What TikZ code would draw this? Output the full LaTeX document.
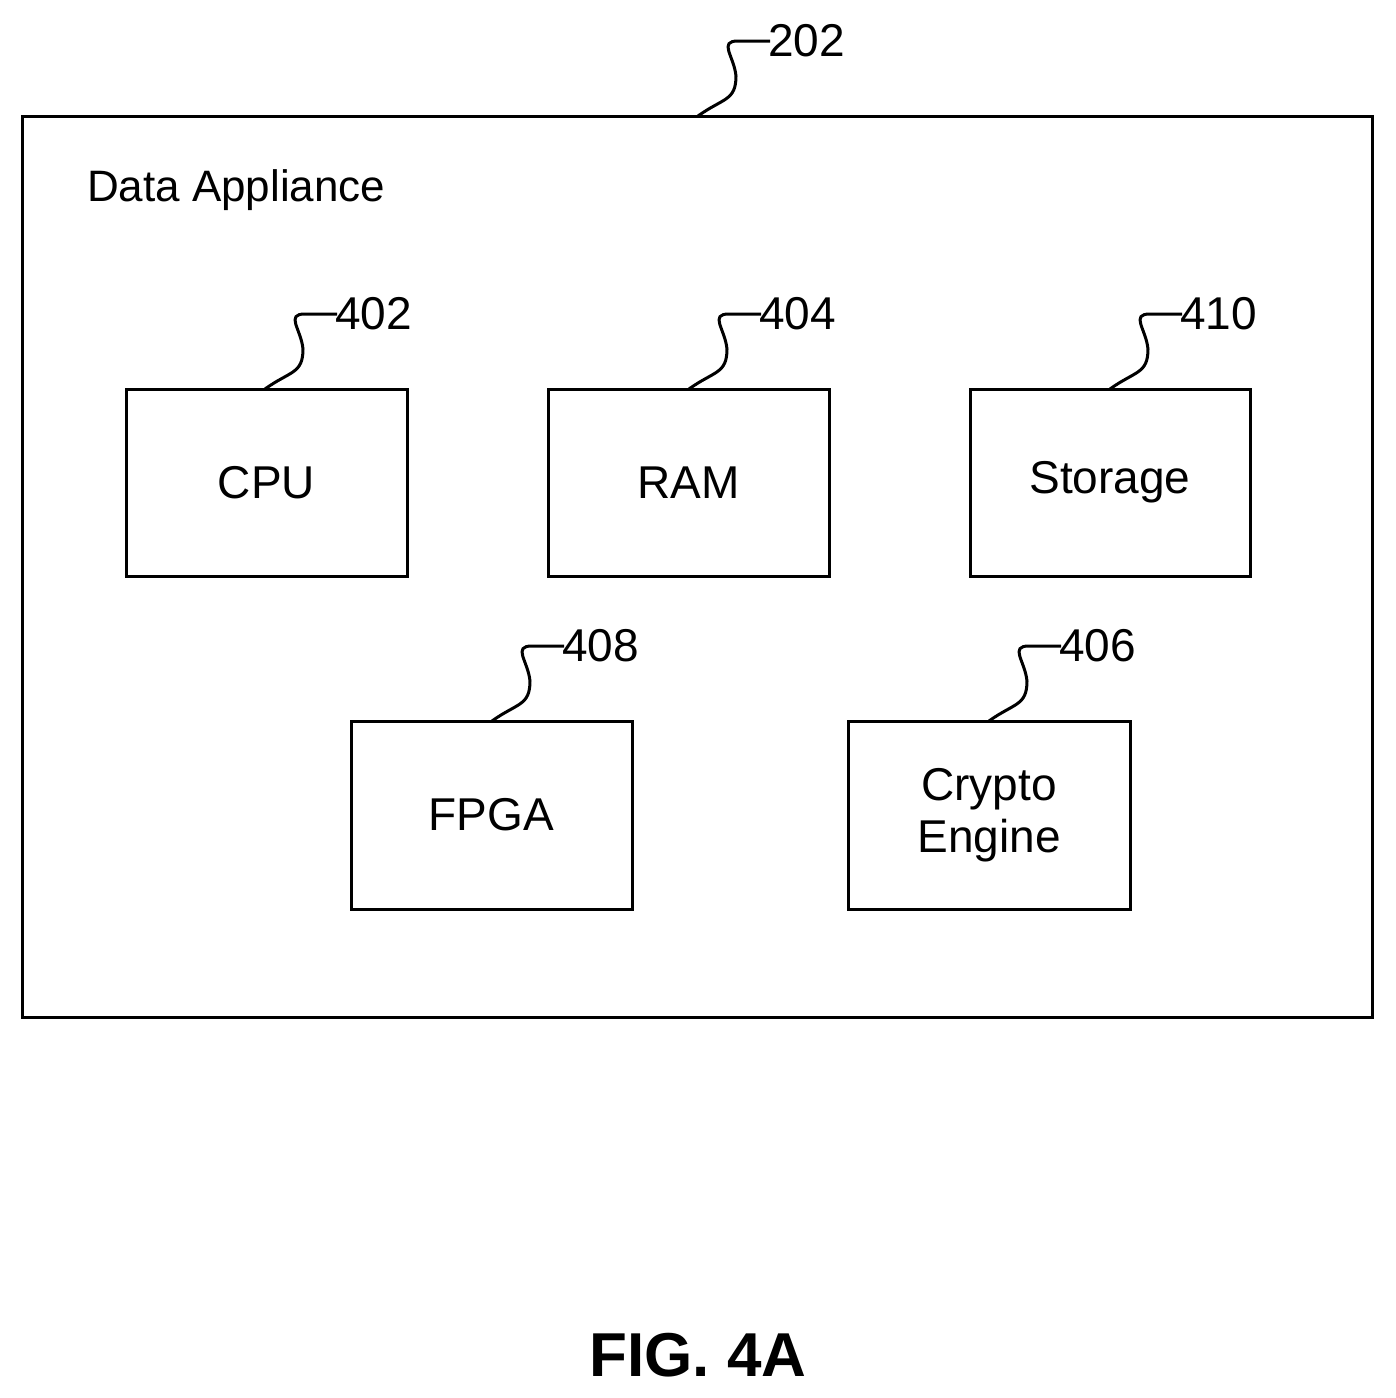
\documentclass[tikz,border=0pt]{standalone}
\usepackage{fontspec}
\setmainfont{Liberation Sans}
\newcommand\myleader[4]{%
  \coordinate (#1s) at (#2,#3);
  \coordinate (#1e) at (#2+40,#3-75);
  \draw[lead] (#1s) .. controls ++(25,-18) and ++(0,25) .. ++(38,-40) .. controls ++(-2,-20) and ++(-20,0) .. (#1e) -- ++(32,0);
  \node[lab,anchor=west] (#1l) at (#2+70,#3-75) {#4};}
\begin{document}
\begin{tikzpicture}[x=0.5pt,y=-0.5pt,
  box/.style={draw,line width=1.5pt,inner sep=0pt,font=\fontsize{23}{26}\selectfont,align=center},
  lead/.style={line width=1.5pt},
  lab/.style={font=\fontsize{23}{26}\selectfont,inner sep=0pt}]
\useasboundingbox (0,0) rectangle (1396,1398);
\node[box,minimum width=675pt,minimum height=450.5pt] (outer) at (697,566.5) {};
\node[anchor=west,font=\fontsize{22}{26}\selectfont] (title) at (80,190) {Data Appliance};
\node[box,minimum width=140.5pt,minimum height=93.5pt] (cpu) at (266.5,482.5) {CPU};
\node[box,minimum width=140.5pt,minimum height=93.5pt] (ram) at (688.5,482.5) {RAM};
\node[box,minimum width=140pt,minimum height=93.5pt] (sto) at (1110,482.5) {Storage};
\node[box,minimum width=140.5pt,minimum height=94pt] (fpga) at (491.5,815) {FPGA};
\node[box,minimum width=141pt,minimum height=94pt] (cry) at (989,815) {Crypto\\Engine};
\myleader{a}{698}{116}{202}
\myleader{b}{265}{389}{402}
\myleader{c}{689}{389}{404}
\myleader{d}{1110}{389}{410}
\myleader{e}{492}{721}{408}
\myleader{f}{989}{721}{406}
\node[font=\bfseries\fontsize{31}{36}\selectfont] (fig) at (698,1355) {FIG. 4A};
\end{tikzpicture}
\end{document}
